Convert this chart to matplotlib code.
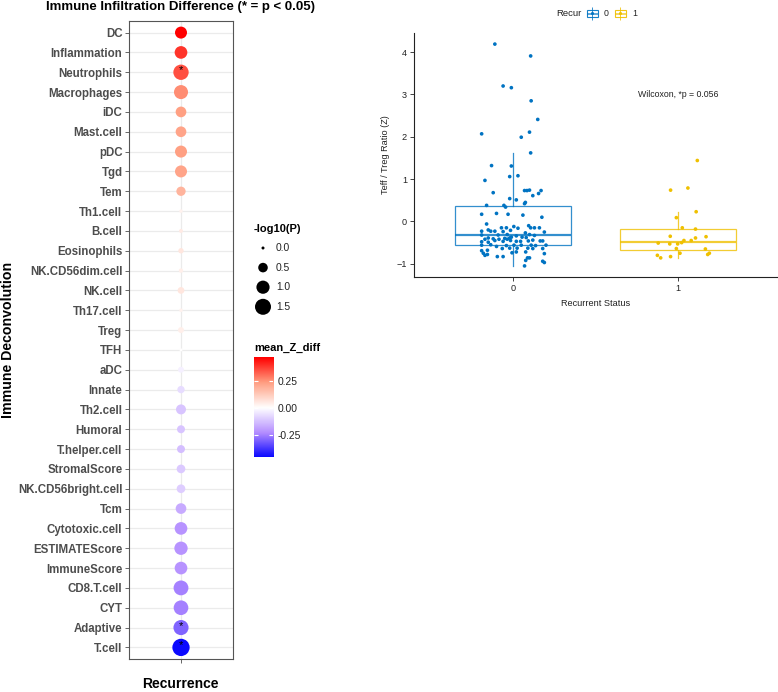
import numpy as np
import matplotlib.pyplot as plt
from matplotlib.colors import LinearSegmentedColormap, Normalize
from matplotlib.patches import Rectangle

plt.rcParams['font.family'] = ['Liberation Sans', 'DejaVu Sans']

# ---- left panel: dot plot (top to bottom) ----
cell_types = ['DC', 'Inflammation', 'Neutrophils', 'Macrophages', 'iDC', 'Mast.cell',
              'pDC', 'Tgd', 'Tem', 'Th1.cell', 'B.cell', 'Eosinophils', 'NK.CD56dim.cell',
              'NK.cell', 'Th17.cell', 'Treg', 'TFH', 'aDC', 'Innate', 'Th2.cell', 'Humoral',
              'T.helper.cell', 'StromalScore', 'NK.CD56bright.cell', 'Tcm', 'Cytotoxic.cell',
              'ESTIMATEScore', 'ImmuneScore', 'CD8.T.cell', 'CYT', 'Adaptive', 'T.cell']
mean_z_diff = [0.47, 0.39, 0.35, 0.26, 0.23, 0.22, 0.23, 0.22, 0.18, 0.03, 0.05, 0.06,
               0.04, 0.06, 0.03, 0.04, 0.0, -0.03, -0.07, -0.12, -0.12, -0.13, -0.11,
               -0.10, -0.17, -0.22, -0.22, -0.22, -0.25, -0.25, -0.30, -0.455]
neg_log10_p = [0.82, 0.92, 1.37, 1.14, 0.64, 0.64, 0.82, 0.82, 0.47, 0.02, 0.04, 0.12,
               0.06, 0.22, 0.02, 0.16, 0.0, 0.16, 0.27, 0.55, 0.33, 0.33, 0.40, 0.40,
               0.64, 0.92, 1.02, 0.92, 1.28, 1.25, 1.33, 1.76]
size_breaks = [0.0, 0.5, 1.0, 1.5]
color_breaks = [-0.25, 0.0, 0.25]

# ---- right panel: Teff/Treg ratio by recurrence ----
recur_levels = ['0', '1']
ratio_recur0 = [4.19, 3.91, 3.20, 3.16, 2.85, 2.41, 2.11, 2.07, 1.99, 1.62, 1.32, 1.31,
                1.06, 1.08, 0.97, 0.68, 0.73, 0.73, 0.74, 0.73, 0.66, 0.61, 0.54, 0.51,
                0.45, 0.42, 0.38, 0.38, 0.34, 0.17, 0.19, 0.17, 0.15, 0.10, -0.06, -0.15,
                -0.12, -0.16, -0.10, -0.15, -0.15, -0.15, -0.15, -0.23, -0.20, -0.23, -0.23,
                -0.21, -0.24, -0.27, -0.25, -0.32, -0.32, -0.31, -0.34, -0.31, -0.33, -0.39,
                -0.41, -0.40, -0.39, -0.37, -0.37, -0.38, -0.42, -0.42, -0.42, -0.48, -0.49,
                -0.45, -0.47, -0.45, -0.47, -0.47, -0.46, -0.44, -0.46, -0.46, -0.56, -0.55,
                -0.59, -0.57, -0.56, -0.56, -0.56, -0.57, -0.56, -0.64, -0.63, -0.63, -0.63,
                -0.64, -0.64, -0.69, -0.68, -0.74, -0.72, -0.72, -0.75, -0.80, -0.78, -0.76,
                -0.83, -0.83, -0.86, -0.86, -0.92, -0.94, -0.97, -1.05]
jitter_recur0 = [-0.11, 0.107, -0.06, -0.01, 0.11, 0.15, 0.10, -0.19, 0.05, 0.107, -0.13,
                 -0.01, -0.02, 0.03, -0.17, -0.12, 0.07, 0.085, 0.10, 0.17, 0.155, 0.12,
                 -0.02, 0.02, 0.075, 0.07, -0.16, -0.055, -0.045, -0.19, -0.10, -0.03, 0.06,
                 0.175, -0.16, -0.04, 0.005, 0.03, 0.095, 0.107, 0.13, 0.16, -0.07, -0.19,
                 -0.15, -0.135, -0.11, -0.015, -0.06, 0.075, 0.19, -0.19, -0.09, -0.035,
                 0.02, 0.10, 0.13, -0.15, -0.12, -0.05, -0.02, -0.01, 0.055, 0.08, -0.17,
                 -0.085, -0.035, -0.19, -0.15, -0.11, -0.06, -0.015, 0.02, 0.046, 0.093,
                 0.12, 0.165, 0.18, -0.19, -0.135, -0.10, -0.04, 0.006, 0.05, 0.11, 0.137,
                 0.20, -0.065, -0.02, 0.025, 0.09, 0.12, 0.18, -0.19, -0.155, -0.006, 0.02,
                 0.077, -0.18, -0.17, -0.155, 0.19, -0.095, -0.06, 0.088, 0.10, 0.077, 0.18,
                 0.19, 0.07]
ratio_recur1 = [1.44, 0.74, 0.79, 0.23, 0.09, -0.15, -0.18, -0.35, -0.36, -0.39, -0.45,
                -0.45, -0.50, -0.53, -0.53, -0.51, -0.64, -0.65, -0.75, -0.78, -0.75, -0.80,
                -0.86, -0.83]
jitter_recur1 = [0.117, -0.045, 0.06, 0.11, -0.01, 0.026, 0.106, -0.047, 0.17, 0.106, 0.08,
                 0.036, 0.022, -0.002, -0.05, -0.12, -0.01, 0.166, 0.012, 0.18, 0.19, -0.125,
                 -0.105, -0.045]
recur_colors = ['#0073C2', '#EFC000']
wilcox_label = 'Wilcoxon, *p = 0.056'

W, H = 778, 692
fig = plt.figure(figsize=(W / 100, H / 100), dpi=100)


def px_box(x0, y0, x1, y1):
    # pixel box (top-left origin) -> figure fraction rect
    return [x0 / W, 1 - y1 / H, (x1 - x0) / W, (y1 - y0) / H]


def dot_size(v):
    d_px = np.sqrt(3.0 ** 2 + (16.0 ** 2 - 3.0 ** 2) * np.asarray(v) / 1.5)
    return (d_px * 0.72) ** 2


zcmap = LinearSegmentedColormap.from_list(
    'zdiff', [(0, '#0000FF'), (0.25, '#B28BFF'), (0.5, '#FFFFFF'),
              (0.75, '#FF9E81'), (1, '#FF0000')])
zlim = max(abs(min(mean_z_diff)), abs(max(mean_z_diff)))
znorm = Normalize(-zlim, zlim)

# ---------------- left panel ----------------
ax = fig.add_axes(px_box(128.7, 20.7, 233.3, 659.3))
n = len(cell_types)
ypos = np.arange(n)
ax.scatter(np.zeros(n), ypos, s=dot_size(neg_log10_p), c=mean_z_diff, cmap=zcmap,
           norm=znorm, edgecolors='none', zorder=3)
for i, p in enumerate(neg_log10_p):
    if p > -np.log10(0.05):
        ax.text(0, ypos[i] - 0.1, '*', ha='center', va='center', fontsize=8, zorder=4)
ax.set_xlim(-0.6, 0.6)
ax.set_ylim(n - 0.4, -0.6)
ax.set_yticks(ypos)
ax.set_yticklabels(cell_types, fontsize=8.3, fontweight='bold', color='#4D4D4D')
ax.set_xticks([0])
ax.set_xticklabels([''])
ax.tick_params(length=3, width=0.6, color='#4D4D4D', pad=1.5)
ax.grid(True, color='#EBEBEB', lw=0.9, zorder=0)
ax.set_axisbelow(True)
for sp in ax.spines.values():
    sp.set_color('#555555')
    sp.set_linewidth(0.8)
fig.text(180.7 / W, 1 - 684 / H, 'Recurrence', ha='center', va='center',
         fontsize=10, fontweight='bold')
fig.text(8 / W, 1 - 340 / H, 'Immune Deconvolution', rotation=90, ha='center',
         va='center', fontsize=10.2, fontweight='bold')
fig.text(180.7 / W, 1 - 7 / H, 'Immune Infiltration Difference (* = p < 0.05)',
         ha='center', va='center', fontsize=9.5, fontweight='bold')

# ---------------- legends for the left panel ----------------
ovl = fig.add_axes([0, 0, 1, 1])
ovl.set_xlim(0, W)
ovl.set_ylim(H, 0)
ovl.axis('off')

ovl.text(254, 229, '-log10(P)', fontsize=8, fontweight='bold', va='center')
for k, b in enumerate(size_breaks):
    yy = 248 + 19.6 * k
    ovl.scatter([263], [yy], s=dot_size([b]), color='black', edgecolors='none')
    ovl.text(276, yy, f'{b:.1f}', fontsize=7.4, va='center', color='#222222')

ovl.text(254, 348, 'mean_Z_diff', fontsize=8, fontweight='bold', va='center')
cax = fig.add_axes(px_box(254, 357.3, 273.3, 456.7))
zmin, zmax = min(mean_z_diff), max(mean_z_diff)
grad = np.linspace(zmin, zmax, 256).reshape(-1, 1)
cax.imshow(grad, cmap=zcmap, norm=znorm, aspect='auto', origin='lower',
           extent=[0, 1, zmin, zmax])
for t in color_breaks:
    cax.hlines(t, 0, 0.2, color='white', lw=0.8)
    cax.hlines(t, 0.8, 1, color='white', lw=0.8)
cax.set_xticks([])
cax.yaxis.tick_right()
cax.set_yticks(color_breaks)
cax.set_yticklabels([f'{t:.2f}' for t in color_breaks], fontsize=7.4, color='#222222')
cax.tick_params(length=0, pad=3)
for sp in cax.spines.values():
    sp.set_visible(False)

# ---------------- right panel ----------------
ax2 = fig.add_axes(px_box(414, 33, 777, 277))
groups = [ratio_recur0, ratio_recur1]
jitters = [jitter_recur0, jitter_recur1]
bp = ax2.boxplot(groups, positions=[0, 1], widths=0.7, showfliers=False,
                 showcaps=False, patch_artist=True, whis=1.5)
for g, col in enumerate(recur_colors):
    bp['boxes'][g].set(facecolor='white', edgecolor=col, linewidth=0.9, alpha=0.8)
    bp['medians'][g].set(color=col, linewidth=1.6, alpha=0.8)
    for w in bp['whiskers'][2 * g:2 * g + 2]:
        w.set(color=col, linewidth=0.9, alpha=0.8)
for g, col in enumerate(recur_colors):
    ax2.scatter(g + np.asarray(jitters[g]), groups[g], s=7, color=col,
                edgecolors='none', zorder=3)

all_vals = np.concatenate(groups)
lo, hi = all_vals.min(), all_vals.max()
pad = 0.05 * (hi - lo)
ax2.set_ylim(lo - pad, hi + pad)
ax2.set_xlim(-0.6, 1.6)
ax2.set_xticks([0, 1])
ax2.set_xticklabels(recur_levels)
ax2.set_yticks([-1, 0, 1, 2, 3, 4])
ax2.tick_params(labelsize=6.6, length=3, width=0.6, pad=2, colors='#222222')
for s in ['top', 'right']:
    ax2.spines[s].set_visible(False)
for s in ['left', 'bottom']:
    ax2.spines[s].set_linewidth(0.8)
    ax2.spines[s].set_color('#222222')
ax2.set_xlabel('Recurrent Status', fontsize=6.6, labelpad=4, color='#222222')
ax2.set_ylabel('Teff / Treg Ratio (Z)', fontsize=6.6, labelpad=5, color='#222222')
ax2.text(1, 3.0, wilcox_label, ha='center', va='center', fontsize=6.3, color='#222222')

# Recur legend (top)
ovl.text(556, 13.5, 'Recur', fontsize=6.8, va='center', color='#222222')
for k, col in enumerate(recur_colors):
    x0 = 587 + 28 * k
    ovl.vlines(x0 + 5.5, 7, 20, color=col, lw=0.7, alpha=0.8)
    ovl.add_patch(Rectangle((x0, 10), 11, 7, facecolor='white', edgecolor=col,
                            lw=0.8, alpha=0.9))
    ovl.hlines(13.5, x0, x0 + 11, color=col, lw=1.1, alpha=0.8)
    ovl.scatter([x0 + 5.5], [13.5], s=5, color=col, edgecolors='none')
    ovl.text(x0 + 17, 13.5, recur_levels[k], fontsize=6.3, va='center', color='#222222')

fig.savefig('out.png', dpi=100)
